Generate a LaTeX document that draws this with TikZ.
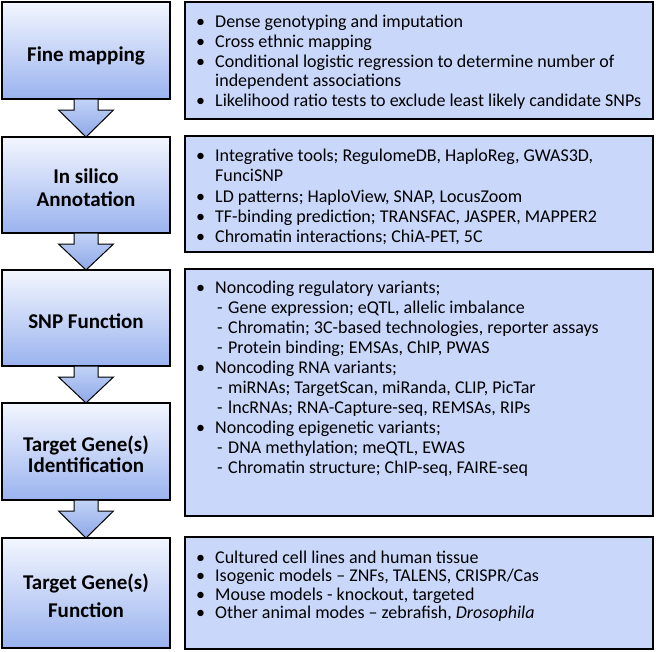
\documentclass[tikz,border=0pt]{standalone}
\usepackage{fontspec}
\setmainfont{Carlito}
\usetikzlibrary{calc}
\definecolor{stepTop}{HTML}{F3F6FE}
\definecolor{stepBottom}{HTML}{9AB3EF}
\definecolor{flowTop}{HTML}{C2D3F7}
\definecolor{flowBottom}{HTML}{8EA8E8}
\definecolor{noteFill}{HTML}{C9D8FA}
\newcommand\bitem{\makebox[19pt][l]{\textbullet}}
\newcommand\bmore{\hspace*{19pt}}
\newcommand\bsub{\hspace*{21pt}\makebox[11pt][l]{-}}
\begin{document}
\begin{tikzpicture}[
            x=1pt, y=-1pt,
            stepbox/.style={draw,line width=1.3pt,top color=stepTop,bottom color=stepBottom,
                minimum width=168pt,outer sep=0pt,inner sep=0pt},
            steptext/.style={align=center,yshift=-3pt,
                font=\fontsize{21}{23}\selectfont\bfseries},
            notebox/.style={draw,line width=2.2pt,fill=noteFill,minimum width=468pt,
                anchor=north west,outer sep=0pt,inner sep=0pt},
            notes/.style={anchor=north west,inner sep=0pt,align=left,
                font=\fontsize{18}{19.6}\selectfont},
            flow/.style={draw,line width=1pt,top color=flowTop,bottom color=flowBottom}
            ]
            \useasboundingbox (0,0) rectangle (656,651);
            % steps
            \node[stepbox,minimum height=97pt,label={[steptext,yshift=-2.5pt]center:Fine mapping}] (fine) at (86,50.5) {};
            \node[stepbox,minimum height=96pt,label={[steptext]center:{In silico\\Annotation}}] (silico) at (86,185) {};
            \node[stepbox,minimum height=96pt,label={[steptext]center:SNP Function}] (snp) at (86,318) {};
            \node[stepbox,minimum height=97pt,label={[steptext]center:{Target Gene(s)\\[-2pt]Identification}}] (ident) at (86,451.5) {};
            \node[stepbox,minimum height=110pt,label={[steptext]center:{Target Gene(s)\\[5pt]Function}}] (func) at (86,593) {};
            % block arrows
            \foreach \a/\b in {fine/silico,silico/snp,snp/ident,ident/func}
                \path[flow] let \p1=(\a.south), \p2=(\b.north) in
                    (\x1-12pt,\y1) -- (\x1+12pt,\y1) -- (\x1+12pt,\y1-11pt) -- (\x1+27.5pt,\y1-11pt)
                    -- (\x1,\y2) -- (\x1-27.5pt,\y1-11pt) -- (\x1-12pt,\y1-11pt) -- cycle;
            % notes
            \node[notebox,minimum height=117pt] (fineinfo) at (185,2) {};
            \node[notebox,minimum height=116pt] (silicoinfo) at (185,136) {};
            \node[notebox,minimum height=247pt] (snpinfo) at (185,269) {};
            \node[notebox,minimum height=112pt] (funcinfo) at (185,537) {};
            \node[notes] (fineitems) at ([shift={(11pt,-12pt)}]fineinfo.north west) {%
                \strut\bitem Dense genotyping and imputation\\
                \bitem Cross ethnic mapping\\
                \bitem Conditional logistic regression to determine number of\\
                \bmore independent associations\\
                \bitem Likelihood ratio tests to exclude least likely candidate SNPs};
            \node[notes,font=\fontsize{18}{20.3}\selectfont] (silicoitems) at ([shift={(11pt,-11pt)}]silicoinfo.north west) {%
                \strut\bitem Integrative tools; RegulomeDB, HaploReg, GWAS3D,\\
                \bmore FunciSNP\\
                \bitem LD patterns; HaploView, SNAP, LocusZoom\\
                \bitem TF-binding prediction; TRANSFAC, JASPER, MAPPER2\\
                \bitem Chromatin interactions; ChiA-PET, 5C};
            \node[notes,font=\fontsize{18}{20}\selectfont] (snpitems) at ([shift={(11pt,-10.1pt)}]snpinfo.north west) {%
                \strut\bitem Noncoding regulatory variants;\\
                \bsub Gene expression; eQTL, allelic imbalance\\
                \bsub Chromatin; 3C-based technologies, reporter assays\\
                \bsub Protein binding; EMSAs, ChIP, PWAS\\
                \bitem Noncoding RNA variants;\\
                \bsub miRNAs; TargetScan, miRanda, CLIP, PicTar\\
                \bsub lncRNAs; RNA-Capture-seq, REMSAs, RIPs\\
                \bitem Noncoding epigenetic variants;\\
                \bsub DNA methylation; meQTL, EWAS\\
                \bsub Chromatin structure; ChIP-seq, FAIRE-seq};
            \node[notes,font=\fontsize{18}{18.3}\selectfont] (funcitems) at ([shift={(11pt,-13.5pt)}]funcinfo.north west) {%
                \strut\bitem Cultured cell lines and human tissue\\
                \bitem Isogenic models -- ZNFs, TALENS, CRISPR/Cas\\
                \bitem Mouse models - knockout, targeted\\
                \bitem Other animal modes -- zebrafish, \textit{Drosophila}};
        \end{tikzpicture}
\end{document}
